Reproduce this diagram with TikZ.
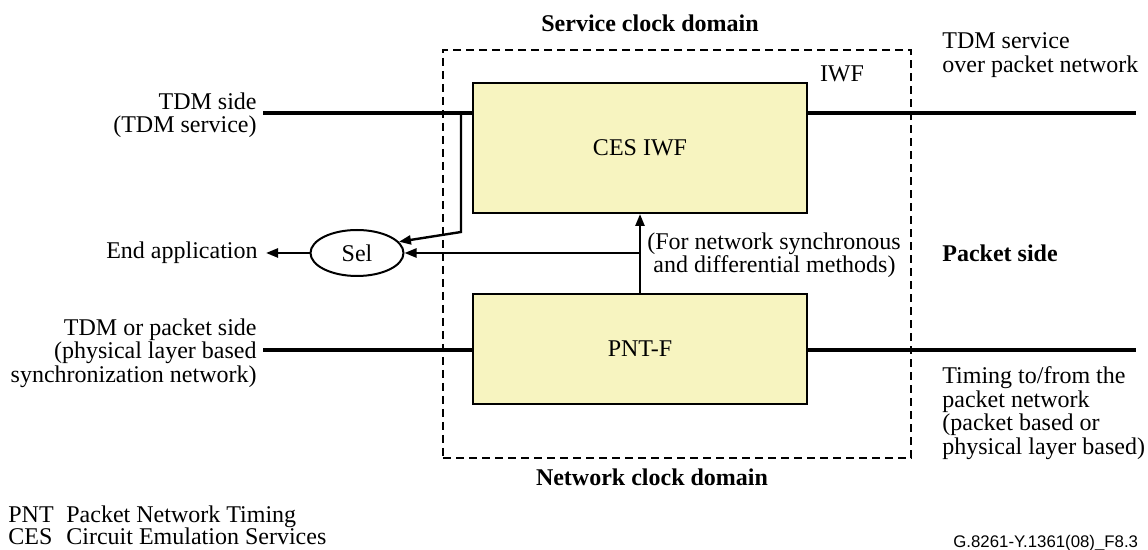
\documentclass[tikz,border=0pt]{standalone}
\usepackage{fontspec}
\setmainfont{Liberation Serif}
\newfontfamily\figsans{Liberation Sans}
\usetikzlibrary{arrows.meta,shapes.geometric}
\definecolor{boxfill}{RGB}{247,244,192}
\begin{document}
\begin{tikzpicture}[x=0.5pt,y=-0.5pt,
  every node/.style={font=\fontsize{12}{11.75}\selectfont, inner sep=0pt},
  blockbox/.style={draw, line width=1pt, fill=boxfill, minimum width=167pt},
  domainbox/.style={draw, line width=1pt, dash pattern=on 4pt off 2.5pt, minimum width=234pt, minimum height=204pt},
  selnode/.style={ellipse, draw, line width=1pt, minimum width=46.5pt, minimum height=23pt},
  thickline/.style={line width=1.75pt},
  arrowline/.style={line width=1.2pt, -{Triangle[length=6pt,width=4.5pt]}},
  idstyle/.style={font=\figsans\fontsize{8.4}{10}\selectfont}
]
\useasboundingbox (0,0) rectangle (1148,550);
% boxes
\node[domainbox] (iwf) at (677,254) {};
\node[blockbox, minimum height=65pt] (ces) at (640,148) {CES IWF};
\node[blockbox, minimum height=55pt] (pnt) at (640,349) {PNT-F};
\node[selnode] (sel) at (357,253) {Sel};
% coordinates
\coordinate (tdmin) at (263,113);
\coordinate (tdmout) at (1136,113);
\coordinate (pnin) at (263,350);
\coordinate (pnout) at (1136,350);
\coordinate (branch) at (461,113);
\coordinate (bend) at (461,232);
\coordinate (endapp) at (266,253);
\coordinate (junction) at (640,253);
% connectors
\draw[thickline] (tdmin) -- (tdmin -| ces.west);
\draw[thickline] (tdmout -| ces.east) -- (tdmout);
\draw[thickline] (pnin) -- (pnin -| pnt.west);
\draw[thickline] (pnout -| pnt.east) -- (pnout);
\draw[arrowline] (branch) -- (bend) -- (sel.15);
\draw[arrowline] (pnt.north) -- (ces.south);
\draw[arrowline] (junction) -- (sel.east);
\draw[arrowline] (sel.west) -- (endapp);
% labels
\node[anchor=east, align=right] (tdmside) at (257,115) {TDM side\\(TDM service)};
\node[anchor=east] (endtxt) at (258,253) {End application};
\node[anchor=east, align=right] (tdmpkt) at (257,353) {TDM or packet side\\(physical layer based\\synchronization network)};
\node[anchor=west, align=left] (tdmsvc) at (942,55) {TDM service\\over packet network};
\node[anchor=west] (pktside) at (942,253) {\textbf{Packet side}};
\node[anchor=west, align=left] (timing) at (942,413) {Timing to/from the\\packet network\\(packet based or\\physical layer based)};
\node[anchor=west, align=left] (formeth) at (647,255) {(For network synchronous\\\hspace*{3pt}and differential methods)};
\node (iwflbl) at (842,74) {IWF};
\node (svcdom) at (650,23) {\textbf{Service clock domain}};
\node (netdom) at (652,477) {\textbf{Network clock domain}};
% legend
\node[anchor=base west] (pntab) at (8,523) {PNT};
\node[anchor=base west] (pntdesc) at (66,523) {Packet Network Timing};
\node[anchor=base west] (cesab) at (8,545) {CES};
\node[anchor=base west] (cesdesc) at (66,545) {Circuit Emulation Services};
\node[anchor=base west, idstyle] (figid) at (953,548) {G.8261-Y.1361(08)\_F8.3};
\end{tikzpicture}
\end{document}
